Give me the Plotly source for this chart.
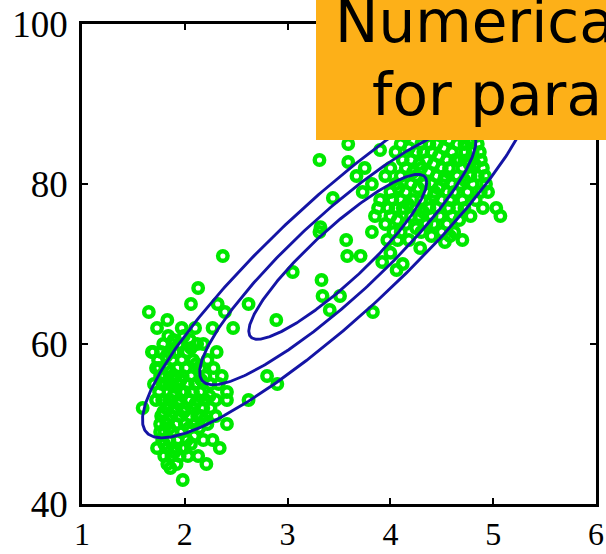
import numpy as np
import plotly.graph_objects as go

# ---- data (eruption duration in minutes, waiting time in minutes) ----
eruptions = [
    # lower cluster, edges / isolated
    1.65, 1.83, 1.73, 1.97, 2.13, 2.06, 2.37, 2.32, 2.39, 2.62, 2.47, 2.27, 2.89, 1.69, 2.31,
    1.59, 2.41, 2.41, 2.62, 2.80, 2.90, 2.41, 2.18, 2.13, 2.21, 2.34, 1.98, 1.83, 1.73, 1.79,
    1.68, 1.74, 1.89, 2.05,
    # lower cluster, dense
    1.75, 1.80, 1.85, 1.90, 1.95, 2.00, 2.05, 2.10, 1.78, 1.83, 1.87, 1.92, 1.97, 2.02, 1.80,
    1.85, 1.90, 1.95, 1.77, 1.82, 1.88, 1.93, 1.98, 2.03, 2.08, 2.13, 2.18, 1.85, 1.90, 1.97,
    2.02, 2.08, 2.15, 2.20, 2.25, 2.12, 2.18, 1.75, 1.80, 1.70, 2.00, 2.05, 2.10, 2.15, 2.20,
    2.25, 2.30, 1.95, 1.90, 1.85, 2.00, 1.83, 1.78, 1.87, 1.93, 1.97, 2.07, 2.12, 1.88, 1.93,
    1.83, 1.87, 1.92, 1.80, 1.97, 2.03, 1.78, 2.28, 2.33, 2.36, 2.30, 2.22, 2.27,
    1.77, 1.82, 1.72, 1.76, 1.72, 1.76, 1.81, 1.86, 1.91, 1.96, 2.01, 2.06, 2.11, 2.16, 2.22,
    2.06, 1.94, 1.99, 2.10, 1.84, 1.79, 1.84, 1.89, 1.94, 1.99, 2.04, 2.09, 2.14, 2.19, 2.24,
    1.86, 1.90, 1.85, 2.00, 2.06, 2.10, 2.16, 1.80, 1.76,
    # upper cluster, edges / isolated
    3.31, 3.59, 3.59, 3.44, 3.32, 3.67, 3.73, 3.82, 3.75, 3.90, 3.57, 3.58, 3.71, 3.33, 3.34,
    3.51, 3.41, 3.83, 3.31, 3.82, 3.92, 4.00, 4.06, 4.07, 4.12, 3.05, 4.29, 4.53, 4.70, 5.03,
    5.07,
    # upper cluster, dense
    3.95, 4.00, 4.05, 4.10, 4.15, 4.20, 4.25, 4.30, 4.35, 4.40, 4.45, 4.50, 4.55, 4.60, 4.65,
    4.70, 4.10, 4.15, 4.20, 4.25, 4.30, 4.35, 4.40, 4.45, 4.50, 4.55, 4.60, 4.65, 4.70, 4.75,
    4.80, 4.30, 4.35, 4.40, 4.45, 4.50, 4.55, 4.60, 4.65, 4.70, 4.75, 4.80, 4.85, 4.50, 4.55,
    4.60, 4.65, 4.70, 4.75, 4.80, 4.85, 4.90, 4.00, 4.05, 4.10, 4.15, 4.20, 4.25, 4.30, 4.35,
    4.40, 4.45, 4.50, 4.55, 4.60, 3.90, 3.95, 4.00, 4.05, 4.10, 4.15, 4.20, 4.30, 4.35, 4.40,
    4.50, 4.33, 4.43, 4.53, 4.63, 4.73, 4.83, 4.28, 4.38, 4.48, 4.58, 4.68, 4.78, 4.88, 4.12,
    4.22, 4.18, 4.62, 4.78, 4.83, 4.93, 4.90, 3.97, 4.03, 3.85, 3.88,
    4.02, 4.08, 4.12, 4.18, 4.22, 4.28, 4.32, 4.38, 4.42, 4.47, 4.52, 4.57, 4.62, 4.67, 4.72,
    4.77, 4.82, 4.87, 4.92, 4.95, 4.88, 4.72, 4.67, 4.57, 4.42, 4.37, 4.27, 4.17, 4.07, 3.98,
    4.32, 4.42, 4.47, 4.52, 4.62, 4.72, 4.57, 4.67, 4.77, 4.47, 4.37, 4.27, 4.58, 4.40, 4.25,
]
waiting = [
    # lower cluster, edges / isolated
    64.0, 63.0, 62.0, 62.0, 67.0, 65.0, 71.0, 65.0, 64.0, 65.0, 62.0, 62.0, 63.0, 59.0, 59.0,
    52.0, 54.0, 53.0, 53.0, 56.0, 55.0, 50.0, 48.0, 46.0, 45.0, 47.0, 43.0, 45.0, 47.0, 60.0,
    59.0, 58.0, 60.5, 60.5,
    # lower cluster, dense
    57.0, 56.0, 55.0, 54.0, 53.0, 52.0, 51.0, 50.0, 53.0, 52.0, 51.0, 50.0, 49.0, 48.0, 49.0,
    48.0, 47.0, 46.0, 51.0, 50.0, 58.0, 57.0, 56.0, 55.0, 54.0, 53.0, 52.0, 59.0, 59.0, 58.0,
    59.0, 58.0, 57.0, 56.0, 55.0, 60.0, 60.0, 54.0, 53.0, 55.0, 50.0, 53.0, 55.0, 54.0, 53.0,
    52.0, 51.0, 51.0, 52.0, 53.0, 54.0, 57.0, 55.0, 55.0, 55.0, 54.0, 52.0, 51.0, 49.0, 48.0,
    47.0, 46.0, 45.0, 46.0, 47.0, 46.0, 48.0, 57.0, 55.0, 56.0, 53.0, 50.0, 48.0,
    59.0, 58.5, 57.0, 56.0, 53.0, 50.0, 55.0, 56.5, 56.0, 55.5, 57.0, 56.0, 57.5, 55.5, 58.0,
    59.5, 60.0, 61.0, 62.0, 61.0, 51.5, 50.5, 53.5, 52.5, 51.5, 49.5, 48.5, 49.5, 50.5, 53.5,
    44.5, 46.5, 49.5, 47.0, 47.5, 52.5, 51.0, 47.5, 49.0,
    # upper cluster, edges / isolated
    83.0, 85.0, 82.75, 78.25, 74.6, 81.0, 79.0, 80.0, 82.0, 84.25, 73.0, 71.0, 71.0, 68.0, 66.0,
    66.0, 64.25, 64.0, 74.0, 74.0, 70.25, 71.4, 69.25, 73.0, 70.0, 69.0, 72.0, 72.75, 73.0, 77.0,
    76.0,
    # upper cluster, dense
    75.0, 76.0, 77.0, 78.0, 79.0, 80.0, 81.0, 82.0, 83.0, 84.0, 85.0, 86.0, 87.0, 88.0, 89.0,
    90.0, 74.0, 75.0, 76.0, 77.0, 78.0, 79.0, 80.0, 81.0, 82.0, 83.0, 84.0, 85.0, 86.0, 87.0,
    88.0, 74.0, 75.0, 76.0, 77.0, 78.0, 79.0, 80.0, 81.0, 82.0, 83.0, 84.0, 85.0, 74.0, 75.0,
    76.0, 77.0, 78.0, 79.0, 80.0, 81.0, 82.0, 79.0, 80.0, 81.0, 82.0, 83.0, 84.0, 85.0, 86.0,
    87.0, 88.0, 89.0, 90.0, 91.0, 78.0, 81.0, 82.0, 84.0, 85.0, 86.0, 87.0, 88.0, 90.0, 91.0,
    93.0, 80.0, 79.0, 81.0, 83.0, 84.0, 86.0, 76.0, 77.0, 76.0, 78.0, 80.0, 81.0, 83.0, 77.0,
    78.0, 73.0, 74.0, 76.0, 78.0, 80.0, 77.0, 73.0, 74.0, 76.0, 77.0,
    78.0, 79.5, 83.0, 84.5, 81.5, 82.5, 84.0, 85.0, 82.5, 83.5, 84.5, 85.5, 86.5, 87.5, 85.0,
    85.5, 82.5, 84.0, 81.0, 79.0, 79.0, 77.0, 75.5, 77.0, 78.5, 81.5, 79.5, 77.5, 75.5, 77.0,
    76.5, 75.0, 79.5, 80.5, 79.0, 80.5, 82.0, 83.0, 82.5, 87.0, 88.0, 86.5, 73.5, 73.5, 74.5,
]

# Gaussian fitted to the data
gauss_mean = [3.488, 70.90]
gauss_std = [1.141, 13.59]
gauss_rho = 0.901
contour_levels = [0.75, 0.5, 0.25]  # fraction of peak density

x_ticks = [1, 2, 3, 4, 5, 6]
y_ticks = [40, 60, 80, 100]
title_lines = ["Numerical methods", "for parameter estimation"]

# ---- layout helpers (pixel -> paper) ----
W, H = 606, 554
L_, R_, T_, B_ = 82, 10, 24, 50
PW, PH = W - L_ - R_, H - T_ - B_


def px(xp):
    return (xp - L_) / PW


def py(yp):
    return (H - B_ - yp) / PH


fig = go.Figure()

fig.add_trace(go.Scatter(
    x=eruptions, y=waiting, mode="markers",
    marker=dict(symbol="circle-open", size=9.5, color="rgb(0,232,0)",
                line=dict(width=4.4, color="rgb(0,232,0)")),
    hoverinfo="skip", showlegend=False, cliponaxis=True,
))

# ellipse contours of the fitted Gaussian
t = np.linspace(0, 2 * np.pi, 400)
sx, sy = gauss_std
chol = np.array([[sx, 0.0], [gauss_rho * sy, sy * np.sqrt(1 - gauss_rho ** 2)]])
for lev in contour_levels:
    r = np.sqrt(-2 * np.log(lev))
    pts = chol @ np.vstack([np.cos(t), np.sin(t)]) * r
    fig.add_trace(go.Scatter(
        x=gauss_mean[0] + pts[0], y=gauss_mean[1] + pts[1], mode="lines",
        line=dict(color="rgb(20,20,165)", width=2.9),
        hoverinfo="skip", showlegend=False,
    ))

axis_common = dict(
    showline=True, linecolor="black", linewidth=2.8, mirror="ticks",
    ticks="inside", ticklen=6, tickwidth=2, tickcolor="black",
    showgrid=False, zeroline=False, automargin=False,
)
fig.update_xaxes(range=[1, 6], tickvals=x_ticks, ticktext=[str(v) for v in x_ticks],
                 ticklabelstandoff=0,
                 tickfont=dict(family="Liberation Serif", size=32, color="black"),
                 **axis_common)
fig.update_yaxes(range=[40, 100], tickvals=y_ticks, ticktext=[str(v) for v in y_ticks],
                 ticklabelstandoff=4,
                 tickfont=dict(family="Liberation Serif", size=37, color="black"),
                 **axis_common)

# orange caption box (cut off at the right edge, as in the original)
fig.add_shape(type="rect", xref="paper", yref="paper",
              x0=px(316), x1=px(640), y0=py(140), y1=py(-20),
              fillcolor="rgb(253,176,24)", line=dict(width=0), layer="above")
fig.add_annotation(text=title_lines[0], xref="paper", yref="paper",
                   x=px(333), y=py(22), xanchor="left", yanchor="middle",
                   showarrow=False,
                   font=dict(family="DejaVu Sans", size=58, color="black"))
fig.add_annotation(text=title_lines[1], xref="paper", yref="paper",
                   x=px(370), y=py(95), xanchor="left", yanchor="middle",
                   showarrow=False,
                   font=dict(family="DejaVu Sans", size=58, color="black"))

fig.update_layout(
    width=W, height=H,
    margin=dict(l=L_, r=R_, t=T_, b=B_),
    paper_bgcolor="white", plot_bgcolor="white",
    showlegend=False,
)

fig.write_html("out.html")
